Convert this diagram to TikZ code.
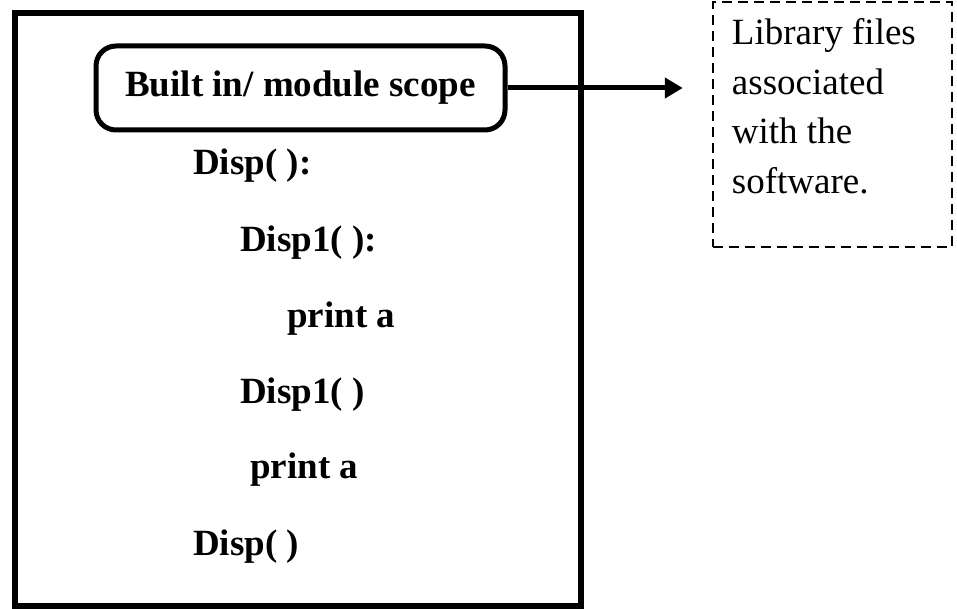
\documentclass[tikz,border=0pt]{standalone}
\usepackage{fontspec}
\setmainfont{Liberation Serif}
\usetikzlibrary{arrows.meta,positioning}

\begin{document}
\begin{tikzpicture}[
  x=1pt, y=-1pt,
  frame/.style={draw, line width=6pt, minimum width=566pt, minimum height=593pt, inner sep=0pt},
  scopebox/.style={draw, line width=5pt, rounded corners=20pt, minimum width=409pt, minimum height=84pt, font=\fontsize{37}{44}\selectfont\bfseries},
  code/.style={anchor=base west, inner sep=0pt, font=\fontsize{37}{44}\selectfont\bfseries},
  libbox/.style={draw, dash pattern=on 10pt off 6pt, line width=2.5pt, minimum width=239pt, minimum height=245pt},
  libtext/.style={align=left, inner sep=0pt, font=\fontsize{37}{49.5}\selectfont},
  arrow/.style={-{Triangle[length=18pt, width=20pt]}, line width=5pt}
]
  \useasboundingbox (0,0) rectangle (957,609);

  % outer scope
  \node[frame] (outer) at (298,309.5) {};
  \node[scopebox] (scope) at (300.5,88) {Built in/ module scope};

  % nested function lines
  \node[code] (disp) at (193,175) {Disp( ):};
  \node[code] (dispinner) at (240,252) {Disp1( ):};
  \node[code] (printinner) at (287,327) {print a};
  \node[code] (callinner) at (240,403) {Disp1( )};
  \node[code] (printouter) at (250,478) {print a};
  \node[code] (callouter) at (193,555) {Disp( )};

  % library note
  \node[libbox] (lib) at (832.5,124.5) {};
  \node[libtext, below right=18pt and 20pt of lib.north west] (libnote)
    {Library files\\associated\\with the\\software.};

  \draw[arrow, shorten >=29pt] (scope.east) -- (scope.east -| lib.west);
\end{tikzpicture}
\end{document}
